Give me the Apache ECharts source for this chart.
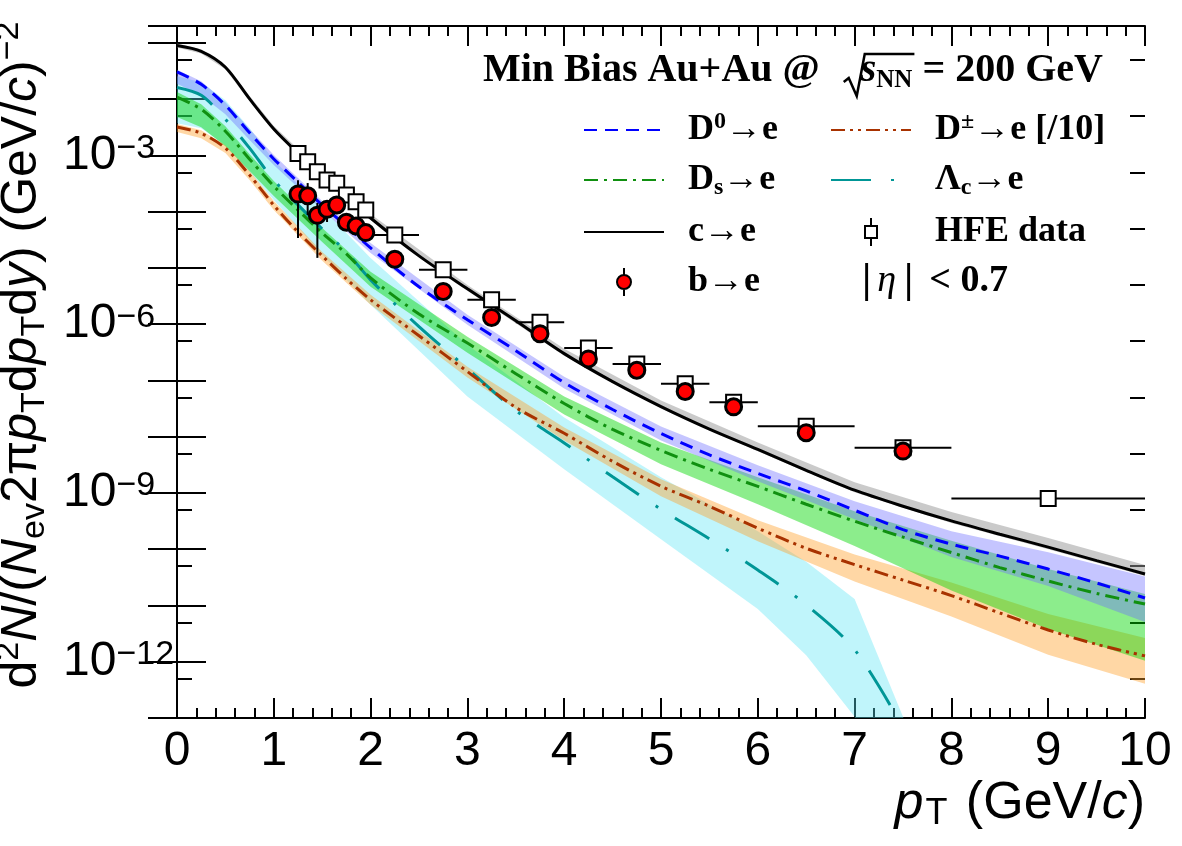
<!DOCTYPE html>
<html>
<head>
<meta charset="utf-8">
<title>HF electron spectra</title>
<style>
  html, body { margin: 0; padding: 0; background: #fff; }
  #chart { width: 1182px; height: 846px; }
</style>
<script src="https://cdn.jsdelivr.net/npm/echarts@6/dist/echarts.min.js"></script>
</head>
<body>
<div id="chart"></div>
<script>
// ---- model curves, common pT grid (GeV/c) ----
var ptGrid = [0, 0.25, 0.5, 0.75, 1, 1.25, 1.5, 1.75, 2, 2.5, 3, 3.5, 4, 4.5, 5, 5.5, 6, 6.5, 7, 7.5, 8, 8.5, 9, 9.5, 10];
var cToE = [9.0e-2, 7.1e-2, 3.7e-2, 1.01e-2, 2.95e-3, 1.10e-3, 4.48e-4, 1.90e-4, 7.73e-5, 1.64e-5, 4.26e-6, 1.15e-6, 3.00e-7, 9.55e-8, 3.44e-8, 1.37e-8, 5.95e-9, 2.53e-9, 1.12e-9, 5.81e-10, 3.19e-10, 1.85e-10, 1.09e-10, 6.28e-11, 3.62e-11];
var d0ToE = [3.06e-2, 1.84e-2, 7.80e-3, 2.52e-3, 8.67e-4, 3.36e-4, 1.31e-4, 5.58e-5, 2.27e-5, 4.62e-6, 1.20e-6, 3.39e-7, 9.18e-8, 3.05e-8, 1.14e-8, 4.76e-9, 2.23e-9, 1.09e-9, 4.93e-10, 2.23e-10, 1.23e-10, 7.55e-11, 4.44e-11, 2.51e-11, 1.36e-11];
var dsToE = [1.09e-2, 6.62e-3, 2.70e-3, 8.59e-4, 2.85e-4, 1.07e-4, 4.19e-5, 1.78e-5, 6.67e-6, 1.52e-6, 4.62e-7, 1.32e-7, 3.89e-8, 1.35e-8, 5.71e-9, 2.63e-9, 1.31e-9, 6.30e-10, 3.15e-10, 1.64e-10, 8.73e-11, 4.72e-11, 2.72e-11, 1.64e-11, 1.06e-11];
var dpmToE = [3.21e-3, 2.48e-3, 1.35e-3, 4.48e-4, 1.30e-4, 4.36e-5, 1.64e-5, 6.41e-6, 2.72e-6, 6.25e-7, 1.44e-7, 3.31e-8, 1.15e-8, 3.65e-9, 1.32e-9, 5.81e-10, 2.37e-10, 1.04e-10, 5.33e-11, 2.83e-11, 1.50e-11, 7.36e-12, 3.67e-12, 2.04e-12, 1.27e-12];
// Lambda_c curve only until it leaves the frame (pT 0 .. 7.5)
var lcToE = [1.61e-2, 1.17e-2, 4.40e-3, 1.35e-3, 3.65e-4, 1.32e-4, 4.93e-5, 1.93e-5, 6.15e-6, 9.04e-7, 1.63e-7, 2.92e-8, 7.76e-9, 1.94e-9, 5.14e-10, 1.53e-10, 4.26e-11, 1.03e-11, 1.64e-12, 6.8e-14];

// ---- uncertainty bands ----
var bandPt = [0, 0.25, 0.5, 0.75, 1, 1.5, 2, 3, 4, 5, 6, 7, 8, 9, 10];
var cBandLo = [8.3e-2, 6.5e-2, 3.39e-2, 9.3e-3, 2.72e-3, 4.12e-4, 7.1e-5, 3.93e-6, 2.76e-7, 3.18e-8, 5.5e-9, 1.03e-9, 2.93e-10, 1.0e-10, 3.33e-11];
var cBandHi = [9.8e-2, 7.7e-2, 4.0e-2, 1.14e-2, 3.33e-3, 5.06e-4, 9.1e-5, 5.0e-6, 3.68e-7, 4.40e-8, 7.9e-9, 1.55e-9, 4.6e-10, 1.58e-10, 5.22e-11];
var d0BandLo = [1.88e-2, 1.17e-2, 5.40e-3, 1.89e-3, 6.78e-4, 1.07e-4, 1.85e-5, 9.80e-7, 7.18e-8, 8.60e-9, 1.61e-9, 3.42e-10, 7.24e-11, 2.22e-11, 5.10e-12];
var d0BandHi = [3.32e-2, 2.08e-2, 8.8e-3, 2.96e-3, 1.02e-3, 1.55e-4, 2.79e-5, 1.47e-6, 1.17e-7, 1.52e-8, 3.10e-9, 7.13e-10, 2.09e-10, 8.88e-11, 3.29e-11];
var dsBandLo = [4.83e-3, 3.18e-3, 1.46e-3, 5.27e-4, 1.90e-4, 2.90e-5, 4.62e-6, 3.12e-7, 2.49e-8, 3.23e-9, 6.30e-10, 1.14e-10, 1.84e-11, 3.83e-12, 1.04e-12];
var dsBandHi = [1.34e-2, 8.12e-3, 3.31e-3, 1.05e-3, 3.50e-4, 5.14e-5, 8.53e-6, 6.00e-7, 5.18e-8, 7.92e-9, 1.90e-9, 4.73e-10, 1.42e-10, 4.44e-11, 1.60e-11];
var dpmBandLo = [2.62e-3, 2.03e-3, 1.10e-3, 3.65e-4, 1.07e-4, 1.34e-5, 2.22e-6, 1.13e-7, 8.60e-9, 8.73e-10, 1.39e-10, 2.66e-11, 6.38e-12, 1.33e-12, 4.06e-13];
var dpmBandHi = [3.63e-3, 2.81e-3, 1.52e-3, 5.27e-4, 1.55e-4, 1.93e-5, 3.33e-6, 1.76e-7, 1.46e-8, 1.75e-9, 3.28e-10, 8.02e-11, 2.56e-11, 7.07e-12, 2.65e-12];
var lcBandPt = [0, 0.25, 0.5, 0.75, 1, 1.5, 2, 3, 4, 5, 6, 6.5, 7, 7.5, 8];
var lcBandLo = [3.74e-3, 3.05e-3, 1.52e-3, 5.06e-4, 1.61e-4, 1.71e-5, 2.22e-6, 5.18e-8, 2.63e-9, 1.51e-10, 8.67e-12, 1.3e-12, 1.05e-13, 4.8e-16, 1e-18];
var lcBandHi = [2.55e-2, 2.00e-2, 9.56e-3, 3.05e-3, 8.25e-4, 1.16e-4, 1.51e-5, 4.33e-7, 2.20e-8, 1.90e-9, 2.09e-10, 6.0e-11, 1.30e-11, 1.05e-13, 4.8e-16];

// ---- HFE data (inclusive heavy-flavour electrons) ----
var hfePt = [1.25, 1.35, 1.45, 1.55, 1.65, 1.75, 1.85, 1.95, 2.25, 2.75, 3.25, 3.75, 4.25, 4.75, 5.25, 5.75, 6.5, 7.5, 9];
var hfeBinLo = [1.2, 1.3, 1.4, 1.5, 1.6, 1.7, 1.8, 1.9, 2, 2.5, 3, 3.5, 4, 4.5, 5, 5.5, 6, 7, 8];
var hfeBinHi = [1.3, 1.4, 1.5, 1.6, 1.7, 1.8, 1.9, 2, 2.5, 3, 3.5, 4, 4.5, 5, 5.5, 6, 7, 8, 10];
var hfeVal = [1.08e-3, 7.70e-4, 5.12e-4, 3.65e-4, 3.19e-4, 1.98e-4, 1.50e-4, 1.07e-4, 3.86e-5, 9.25e-6, 2.72e-6, 1.08e-6, 3.79e-7, 1.97e-7, 8.70e-8, 4.10e-8, 1.54e-8, 6.38e-9, 7.96e-10];

// ---- b -> e ----
var bPt = [1.25, 1.35, 1.45, 1.55, 1.65, 1.75, 1.85, 1.95, 2.25, 2.75, 3.25, 3.75, 4.25, 4.75, 5.25, 5.75, 6.5, 7.5];
var bVal = [2.06e-4, 1.92e-4, 8.63e-5, 1.10e-4, 1.32e-4, 6.49e-5, 5.57e-5, 4.25e-5, 1.43e-5, 3.82e-6, 1.32e-6, 6.79e-7, 2.42e-7, 1.52e-7, 6.36e-8, 3.40e-8, 1.18e-8, 5.56e-9];
var bErrLo = [3.42e-5, 8.75e-5, 1.51e-5, 6.56e-5, 1.0e-4, 5.5e-5, 4.7e-5, 3.6e-5, 1.2e-5, 2.95e-6, 1.0e-6, 6.0e-7, 2.15e-7, 1.35e-7, 5.7e-8, 3.05e-8, 1.05e-8, 5.0e-9];
var bErrHi = [3.63e-4, 3.23e-4, 1.43e-4, 1.61e-4, 1.6e-4, 7.5e-5, 6.5e-5, 5.0e-5, 1.65e-5, 4.4e-6, 1.5e-6, 7.6e-7, 2.7e-7, 1.7e-7, 7.1e-8, 3.8e-8, 1.32e-8, 6.2e-9];

var yTicksShown = [-3, -6, -9, -12];

var chart = echarts.init(document.getElementById('chart'));

function pairs(xs, ys) {
    var out = [];
    for (var i = 0; i < ys.length; i++) out.push([xs[i], ys[i]]);
    return out;
}

// one polygon per band, built through the axes
function band(name, xs, lo, hi, fill) {
    return {
        name: name, type: 'custom', clip: true, silent: true, z: 1,
        data: xs.map(function (x, i) { return [x, lo[i], hi[i]]; }),
        renderItem: function (params, api) {
            if (params.dataIndex !== 0) return null;
            var pts = [], i;
            for (i = 0; i < xs.length; i++) pts.push(api.coord([xs[i], hi[i]]));
            for (i = xs.length - 1; i >= 0; i--) pts.push(api.coord([xs[i], lo[i]]));
            return { type: 'polygon', shape: { points: pts }, style: { fill: fill } };
        }
    };
}

function curve(name, ys, color, dash) {
    return {
        name: name, type: 'line', data: pairs(ptGrid, ys), symbol: 'none',
        smooth: 0.3, z: 3, silent: true,
        lineStyle: { color: color, width: 3, type: dash },
        itemStyle: { color: color }
    };
}

var sans = 'Liberation Sans, Arial, Helvetica, sans-serif';
var serif = 'Liberation Serif, Times New Roman, serif';

function textWidth(font, s) {
    var ctx = document.createElement('canvas').getContext('2d');
    ctx.font = font;
    return ctx.measureText(s).width;
}

// header pieces; the radical is drawn as a polyline placed from measured widths
var headLeft = 483, headTop = 49;
var headA = 'Min Bias Au+Au @';
var sPad = 41;
var wA = textWidth('bold 40px ' + serif, headA);
var wS = textWidth('italic bold 40px ' + serif, 's');
var wN = textWidth('bold 25px ' + serif, 'NN');
var x0 = headLeft + wA;

var legendText = {
    'D0→e': '{gap| }{m|D}{sup|0}{m|→e}',
    'D±→e [/10]': '{gap| }{m|D}{sup|±}{m|→e [/10]}',
    'Ds→e': '{gap| }{m|D}{sub|s}{m|→e}',
    'Λc→e': '{gap| }{m|Λ}{sub|c}{m|→e}',
    'c→e': '{gap| }{m|c→e}',
    'HFE data': '{gap| }{m|HFE data}',
    'b→e': '{gap| }{m|b→e}'
};
var legendRich = {
    gap: { width: 19 },
    m: { fontFamily: serif, fontWeight: 'bold', fontSize: 36, lineHeight: 40, color: '#000' },
    sup: { fontFamily: serif, fontWeight: 'bold', fontSize: 24, lineHeight: 26, verticalAlign: 'top', color: '#000' },
    sub: { fontFamily: serif, fontWeight: 'bold', fontSize: 24, lineHeight: 22, verticalAlign: 'bottom', color: '#000' }
};
var noMarker = { color: 'transparent', borderWidth: 0 };
function legendBlock(left, names) {
    return {
        left: left, top: 110, orient: 'vertical', itemWidth: 80, itemHeight: 28, itemGap: 14,
        padding: 0, selectedMode: false,
        data: names.map(function (n) { return typeof n === 'string' ? { name: n, itemStyle: noMarker } : n; }),
        formatter: function (n) { return legendText[n]; },
        textStyle: { rich: legendRich }
    };
}

var hfeIcon = 'path://M6,0 L6,8 M6,20 L6,28 M0,8 L12,8 L12,20 L0,20 Z';
var bIcon = 'path://M7,0 L7,7 M7,21 L7,28 M0,14 A7,7 0 1 1 14,14 A7,7 0 1 1 0,14 Z';

var option = {
    backgroundColor: '#fff',
    animation: false,
    title: {
        left: headLeft, top: headTop, padding: 0,
        text: '{t|' + headA + '}{s|s}{n|NN}{t| = 200 GeV}',
        textStyle: {
            rich: {
                t: { fontFamily: serif, fontWeight: 'bold', fontSize: 40, lineHeight: 44, color: '#000' },
                s: { fontFamily: serif, fontWeight: 'bold', fontStyle: 'italic', fontSize: 40, lineHeight: 44, color: '#000', padding: [0, 0, 0, sPad] },
                n: { fontFamily: serif, fontWeight: 'bold', fontSize: 25, lineHeight: 28, verticalAlign: 'bottom', color: '#000' }
            }
        }
    },
    legend: [
        legendBlock(583, ['D0→e', 'Ds→e', 'c→e', { name: 'b→e', icon: bIcon, itemStyle: { borderWidth: 2 } }]),
        legendBlock(830, ['D±→e [/10]', 'Λc→e', { name: 'HFE data', icon: hfeIcon, itemStyle: { borderWidth: 2 } }])
    ],
    graphic: [
        {
            type: 'polyline',
            shape: { points: [[x0 + 24, 82], [x0 + 29, 78], [x0 + 37, 96], [x0 + 45, 54], [x0 + sPad + wS + wN + 2, 54]] },
            style: { stroke: '#000', lineWidth: 2.5, fill: null }
        },
        {
            type: 'text', x: 862, y: 281,
            style: {
                text: '{a||}{i|η}{a||}{b|< 0.7}', verticalAlign: 'middle',
                rich: {
                    a: { fontFamily: serif, fontWeight: 'bold', fontSize: 42, fill: '#000' },
                    i: { fontFamily: serif, fontStyle: 'italic', fontSize: 38, fill: '#000', padding: [0, 8, 0, 6] },
                    b: { fontFamily: serif, fontWeight: 'bold', fontSize: 38, fill: '#000', padding: [0, 0, 0, 16] }
                }
            }
        }
    ],
    grid: [
        { left: 177, right: 37, top: 26, bottom: 128, containLabel: false, outerBoundsMode: 'none' },
        // helper grid: its log axes carry the short ticks at 5 x 10^n
        { left: 177, right: 37, top: 59.9, bottom: 167.3, containLabel: false, outerBoundsMode: 'none' }
    ],
    xAxis: [
        {
            type: 'value', min: 0, max: 10, interval: 1, gridIndex: 0,
            axisLine: { lineStyle: { color: '#000', width: 2 } },
            axisTick: { inside: true, length: 20, lineStyle: { color: '#000', width: 2 } },
            minorTick: { show: true, splitNumber: 5, length: 10, lineStyle: { color: '#000', width: 2 } },
            splitLine: { show: false },
            axisLabel: { fontFamily: sans, fontSize: 48, color: '#000', margin: 10 },
            name: '{i|p}{s|T}{n| (GeV/}{i|c}{n|)}', nameLocation: 'end', nameGap: 0,
            nameTextStyle: {
                align: 'right', verticalAlign: 'top', padding: [58, 0, 0, 0],
                rich: {
                    n: { fontFamily: sans, fontSize: 52, lineHeight: 56, color: '#000' },
                    i: { fontFamily: sans, fontStyle: 'italic', fontSize: 52, lineHeight: 56, color: '#000' },
                    s: { fontFamily: sans, fontSize: 36, lineHeight: 16, verticalAlign: 'bottom', color: '#000', padding: [0, 4, 0, 2] }
                }
            }
        },
        {
            type: 'value', min: 0, max: 10, interval: 1, gridIndex: 0, position: 'top',
            axisLine: { lineStyle: { color: '#000', width: 2 } },
            axisTick: { inside: true, length: 20, lineStyle: { color: '#000', width: 2 } },
            minorTick: { show: true, splitNumber: 5, length: 10, lineStyle: { color: '#000', width: 2 } },
            splitLine: { show: false }, axisLabel: { show: false }
        },
        { type: 'value', min: 0, max: 10, gridIndex: 1, show: false }
    ],
    yAxis: [
        {
            type: 'log', logBase: 10, min: 1e-13, max: 0.2, interval: 1, gridIndex: 0,
            axisLine: { lineStyle: { color: '#000', width: 2 } },
            axisTick: { inside: true, length: 29, lineStyle: { color: '#000', width: 2 } },
            splitLine: { show: false },
            axisLabel: {
                align: 'left', margin: 114,
                formatter: function (v) {
                    var e = Math.round(Math.log10(v));
                    if (yTicksShown.indexOf(e) < 0) return '';
                    return '{b|10}{e|' + (e < 0 ? '−' : '') + Math.abs(e) + '}';
                },
                rich: {
                    b: { fontFamily: sans, fontSize: 48, lineHeight: 48, color: '#000' },
                    e: { fontFamily: sans, fontSize: 34, lineHeight: 24, verticalAlign: 'top', color: '#000' }
                }
            },
            name: '{n|d}{sp|2}{i|N}{n|/(}{i|N}{sb|ev}{n|2π}{i|p}{sb|T}{n|d}{i|p}{sb|T}{n|d}{i|y}{n|) (GeV/}{i|c}{n|)}{sp|−2}',
            nameLocation: 'middle', nameGap: 106, nameRotate: 90,
            nameTextStyle: {
                padding: [0, 0, 0, 34],
                rich: {
                    n: { fontFamily: sans, fontSize: 50, lineHeight: 60, color: '#000' },
                    i: { fontFamily: sans, fontStyle: 'italic', fontSize: 50, lineHeight: 60, color: '#000' },
                    sp: { fontFamily: sans, fontSize: 34, lineHeight: 30, verticalAlign: 'top', color: '#000' },
                    sb: { fontFamily: sans, fontSize: 34, lineHeight: 30, verticalAlign: 'bottom', color: '#000' }
                }
            }
        },
        {
            type: 'log', logBase: 10, min: 1e-13, max: 0.2, interval: 1, gridIndex: 0, position: 'right',
            axisLine: { lineStyle: { color: '#000', width: 2 } },
            axisTick: { inside: true, length: 29, lineStyle: { color: '#000', width: 2 } },
            splitLine: { show: false }, axisLabel: { show: false }
        },
        {
            type: 'log', logBase: 10, min: 1e-12, max: 1e-1, interval: 1, gridIndex: 1, position: 'left',
            axisLine: { show: false }, splitLine: { show: false }, axisLabel: { show: false },
            axisTick: { inside: true, length: 15, lineStyle: { color: '#000', width: 2 } }
        },
        {
            type: 'log', logBase: 10, min: 1e-12, max: 1e-1, interval: 1, gridIndex: 1, position: 'right',
            axisLine: { show: false }, splitLine: { show: false }, axisLabel: { show: false },
            axisTick: { inside: true, length: 15, lineStyle: { color: '#000', width: 2 } }
        }
    ],
    series: [
        band('Λc band', lcBandPt, lcBandLo, lcBandHi, 'rgba(90,230,245,0.38)'),
        band('D± band', bandPt, dpmBandLo, dpmBandHi, 'rgba(255,160,40,0.42)'),
        band('Ds band', bandPt, dsBandLo, dsBandHi, 'rgba(0,215,0,0.45)'),
        band('D0 band', bandPt, d0BandLo, d0BandHi, 'rgba(110,110,255,0.4)'),
        band('c band', bandPt, cBandLo, cBandHi, 'rgba(150,150,150,0.5)'),
        curve('Λc→e', lcToE, '#009696', [40, 20, 3, 20]),
        curve('D±→e [/10]', dpmToE, '#a83200', [14, 5, 3, 5, 3, 5]),
        curve('Ds→e', dsToE, '#109010', [14, 6, 3, 6]),
        curve('D0→e', d0ToE, '#0000ff', [13, 8]),
        curve('c→e', cToE, '#000000', 'solid'),
        {
            name: 'HFE bins', type: 'custom', z: 4, silent: true,
            data: hfePt.map(function (x, i) { return [hfeBinLo[i], hfeBinHi[i], hfeVal[i]]; }),
            renderItem: function (params, api) {
                var a = api.coord([api.value(0), api.value(2)]);
                var b = api.coord([api.value(1), api.value(2)]);
                return { type: 'line', shape: { x1: a[0], y1: a[1], x2: b[0], y2: b[1] }, style: { stroke: '#000', lineWidth: 2 } };
            }
        },
        {
            name: 'b errors', type: 'custom', z: 4, silent: true,
            data: bPt.map(function (x, i) { return [x, bErrLo[i], bErrHi[i]]; }),
            renderItem: function (params, api) {
                var a = api.coord([api.value(0), api.value(1)]);
                var b = api.coord([api.value(0), api.value(2)]);
                return { type: 'line', shape: { x1: a[0], y1: a[1], x2: b[0], y2: b[1] }, style: { stroke: '#000', lineWidth: 2 } };
            }
        },
        {
            name: 'HFE data', type: 'scatter', z: 5, silent: true,
            data: pairs(hfePt, hfeVal), symbol: 'rect', symbolSize: 15,
            itemStyle: { color: '#fff', borderColor: '#000', borderWidth: 2, opacity: 1 }
        },
        {
            name: 'b→e', type: 'scatter', z: 6, silent: true,
            data: pairs(bPt, bVal), symbol: 'circle', symbolSize: 16,
            itemStyle: { color: '#ff0000', borderColor: '#000', borderWidth: 3, opacity: 1 }
        }
    ]
};

chart.setOption(option);
</script>
</body>
</html>
